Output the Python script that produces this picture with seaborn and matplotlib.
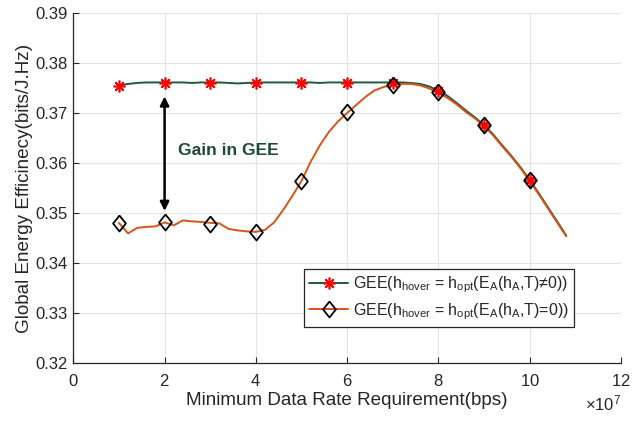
import numpy as np
import matplotlib
matplotlib.use("Agg")
import matplotlib.pyplot as plt
from matplotlib.lines import Line2D
import seaborn as sns

# data rate (x 1e7 bps) of the fine curves
rate_curve = np.array([1.0, 1.2, 1.4, 1.6, 1.8, 2.0, 2.2, 2.4, 2.6, 2.8,
                       3.0, 3.2, 3.4, 3.6, 3.8, 4.0, 4.2, 4.4, 4.6, 4.8,
                       5.0, 5.2, 5.4, 5.6, 5.8, 6.0, 6.2, 6.4, 6.6, 6.8,
                       7.0, 7.2, 7.4, 7.6, 7.8, 8.0, 8.2, 8.4, 8.6, 8.8,
                       9.0, 9.2, 9.4, 9.6, 9.8, 10.0, 10.2, 10.4, 10.6, 10.8]) * 1e7

gee_nonzero = [0.3756, 0.3759, 0.3761, 0.3762, 0.3762, 0.3762, 0.3762, 0.3762, 0.3761, 0.3762,
               0.3762, 0.3762, 0.3761, 0.3760, 0.3761, 0.3762, 0.3762, 0.3762, 0.3762, 0.3762,
               0.3762, 0.3762, 0.3761, 0.3762, 0.3762, 0.3762, 0.3762, 0.3762, 0.3762, 0.3762,
               0.3762, 0.3762, 0.3761, 0.3759, 0.3754, 0.3745, 0.3735, 0.3721, 0.3706, 0.3692,
               0.3677, 0.3658, 0.3636, 0.3615, 0.3592, 0.3567, 0.3540, 0.3512, 0.3484, 0.3456]

gee_zero = [0.3481, 0.3460, 0.3471, 0.3473, 0.3474, 0.3482, 0.3476, 0.3486, 0.3484, 0.3483,
            0.3481, 0.3480, 0.3469, 0.3466, 0.3464, 0.3463, 0.3467, 0.3482, 0.3507, 0.3535,
            0.3565, 0.3603, 0.3636, 0.3663, 0.3684, 0.3701, 0.3717, 0.3733, 0.3746, 0.3753,
            0.3757, 0.3759, 0.3759, 0.3756, 0.3750, 0.3741, 0.3731, 0.3718, 0.3703, 0.3690,
            0.3675, 0.3656, 0.3634, 0.3613, 0.3590, 0.3565, 0.3538, 0.3510, 0.3482, 0.3454]

# marker points
rate_marks = np.array([1, 2, 3, 4, 5, 6, 7, 8, 9, 10]) * 1e7
marks_nonzero = [0.3755, 0.3761, 0.3761, 0.3761, 0.3761, 0.3761, 0.3761, 0.3745, 0.3677, 0.3566]
marks_zero = [0.3481, 0.3482, 0.3479, 0.3463, 0.3564, 0.3702, 0.3756, 0.3743, 0.3676, 0.3566]

labels = [r'GEE(h$_{\mathregular{hover}}$ = h$_{\mathregular{opt}}$(E$_{\mathregular{A}}$(h$_{\mathregular{A}}$,T)≠0))',
          r'GEE(h$_{\mathregular{hover}}$ = h$_{\mathregular{opt}}$(E$_{\mathregular{A}}$(h$_{\mathregular{A}}$,T)=0))']

# the "gain" arrow
gain_x = 2e7
gain_top = 0.3734
gain_bottom = 0.3505

green = '#1f5a3e'
orange = '#d95319'
diamond = [(0, 1), (0.8, 0), (0, -1), (-0.8, 0), (0, 1)]
star = (8, 2, 0)

sns.set_theme(style='whitegrid')
plt.rcParams['font.family'] = ['Liberation Sans', 'DejaVu Sans']
plt.rcParams['mathtext.fontset'] = 'custom'
plt.rcParams['mathtext.rm'] = 'Liberation Sans'
plt.rcParams['mathtext.it'] = 'Liberation Sans:italic'

fig = plt.figure(figsize=(6.33, 4.21), dpi=100)
ax = fig.add_axes([0.1158, 0.137, 0.8652, 0.831])

sns.lineplot(x=rate_curve, y=gee_nonzero, color=green, linewidth=1.4, ax=ax, zorder=3)
sns.lineplot(x=rate_curve, y=gee_zero, color=orange, linewidth=1.4, ax=ax, zorder=3)
sns.lineplot(x=rate_marks, y=marks_nonzero, linestyle='', marker=star, markersize=8.5,
             color='red', markeredgecolor='red', markeredgewidth=1.2, ax=ax, zorder=4)
sns.lineplot(x=rate_marks, y=marks_zero, linestyle='', marker=diamond, markersize=11.5,
             color='black', markeredgecolor='black', markerfacecolor='none',
             markeredgewidth=1.3, ax=ax, zorder=5)

ax.annotate('', xy=(gain_x, gain_bottom), xytext=(gain_x, gain_top),
            arrowprops=dict(arrowstyle='<|-|>', color='black', lw=1.8,
                            mutation_scale=13, shrinkA=0, shrinkB=0), zorder=6)
ax.text(2.29e7, 0.3625, 'Gain in GEE', color='#1e4a35', fontsize=12.5,
        fontweight='bold', va='center', ha='left')

ax.set_xlim(0, 12e7)
ax.set_ylim(0.32, 0.39)
ax.set_xticks(np.arange(0, 13, 2) * 1e7)
ax.set_yticks(np.arange(0.32, 0.3901, 0.01))
ax.set_yticklabels([f'{v:.2f}' for v in np.arange(0.32, 0.3901, 0.01)])
ax.ticklabel_format(axis='x', style='sci', scilimits=(7, 7), useMathText=True)
ax.xaxis.get_offset_text().set_fontsize(12)
ax.xaxis.get_offset_text().set_color('#262626')

ax.grid(True, color='#e3e3e3', linewidth=0.8)
for s in ['top', 'right']:
    ax.spines[s].set_visible(False)
for s in ['left', 'bottom']:
    ax.spines[s].set_color('#262626')
    ax.spines[s].set_linewidth(0.9)
ax.tick_params(direction='in', length=4, width=0.8, color='#262626', labelsize=12,
               labelcolor='#262626', left=True, bottom=True)
ax.tick_params(axis='x', pad=7)
ax.tick_params(axis='y', pad=4)

ax.set_xlabel('Minimum Data Rate Requirement(bps)', fontsize=13.6, color='#262626', labelpad=2)
ax.set_ylabel('Global Energy Efficinecy(bits/J.Hz)', fontsize=13.6, color='#262626', labelpad=2)

handles = [Line2D([], [], color=green, linewidth=1.4, marker=star, markersize=8.5,
                  markeredgecolor='red', markeredgewidth=1.2),
           Line2D([], [], color=orange, linewidth=1.4, marker=diamond, markersize=11.5,
                  markeredgecolor='black', markerfacecolor='none', markeredgewidth=1.3)]
leg = ax.legend(handles, labels, loc='upper left', bbox_to_anchor=(0.421, 0.269),
                borderaxespad=0, fontsize=11.5, frameon=True, fancybox=False,
                framealpha=1, edgecolor='#262626', handlelength=2.4,
                handletextpad=0.3, borderpad=0.35, labelspacing=0.35)
leg.get_frame().set_linewidth(0.9)
for t in leg.get_texts():
    t.set_color('#262626')

fig.savefig('out.png', dpi=100)
